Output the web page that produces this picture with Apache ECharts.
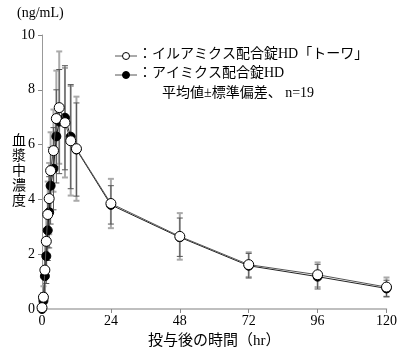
<!DOCTYPE html>
<html><head><meta charset="utf-8">
<script src="https://cdn.jsdelivr.net/npm/echarts@6/dist/echarts.min.js"></script>
<style>html,body{margin:0;padding:0;background:#fff}#c{width:400px;height:354px}</style>
</head><body><div id="c"></div>
<script>
const times = [0, 0.5, 1, 1.5, 2, 2.5, 3, 4, 5, 6, 8, 10, 12, 24, 48, 72, 96, 120];
const openMean = [0.05, 0.43, 1.42, 2.47, 3.45, 4.03, 5.05, 5.78, 6.95, 7.35, 6.8, 6.14, 5.85, 3.85, 2.65, 1.62, 1.25, 0.8];
const openSD   = [0.1, 0.4, 0.9, 1.0, 1.2, 1.3, 1.4, 1.5, 1.75, 2.05, 2.0, 2.0, 1.9, 0.9, 0.85, 0.45, 0.45, 0.35];
const filledMean = [0, 0.3, 1.2, 1.93, 2.87, 3.53, 4.5, 5.12, 6.3, 6.84, 6.98, 6.29, 5.82, 3.8, 2.62, 1.58, 1.18, 0.75];
const filledSD   = [0, 0.3, 0.8, 1.0, 1.1, 1.3, 1.4, 1.5, 1.7, 1.9, 1.9, 1.9, 1.7, 0.7, 0.7, 0.45, 0.45, 0.3];
const xTicks = [0, 24, 48, 72, 96, 120];
const yTicks = [0, 2, 4, 6, 8, 10];
const legendNames = ['：イルアミクス配合錠HD「トーワ」', '：アイミクス配合錠HD', '平均値±標準偏差、 n=19'];

const FONT = '"Liberation Serif", "Noto Sans CJK JP", serif';
const chart = echarts.init(document.getElementById('c'));

function errData(mean, sd) {
  return times.map((t, i) => [t, mean[i] - sd[i], mean[i] + sd[i]]);
}
function errSeries(mean, sd, color, width) {
  return {
    type: 'custom', data: errData(mean, sd), z: 1,
    renderItem: function (params, api) {
      const x = api.coord([api.value(0), 0])[0];
      const lo = api.coord([api.value(0), api.value(1)])[1];
      const hi = api.coord([api.value(0), api.value(2)])[1];
      const st = { stroke: color, lineWidth: width };
      return { type: 'group', children: [
        { type: 'line', shape: { x1: x, y1: lo, x2: x, y2: hi }, style: st },
        { type: 'line', shape: { x1: x - 3, y1: lo, x2: x + 3, y2: lo }, style: st },
        { type: 'line', shape: { x1: x - 3, y1: hi, x2: x + 3, y2: hi }, style: st }
      ]};
    }
  };
}

chart.setOption({
  animation: false,
  grid: { left: 42, right: 13, top: 35, bottom: 44 },
  xAxis: {
    type: 'value', min: 0, max: 120, interval: 24,
    axisLine: { lineStyle: { color: '#aaa', width: 1.5 } },
    axisTick: { show: true, length: 4, lineStyle: { color: '#888' } },
    splitLine: { show: false },
    axisLabel: { color: '#000', fontFamily: FONT, fontSize: 14, margin: 5 },
    name: '投与後の時間（hr）', nameLocation: 'middle', nameGap: 25,
    nameTextStyle: { color: '#000', fontFamily: FONT, fontSize: 15 }
  },
  yAxis: {
    type: 'value', min: 0, max: 10, interval: 2,
    axisLine: { show: true, lineStyle: { color: '#999', width: 1 } },
    axisTick: { show: true, length: 4, lineStyle: { color: '#888' } },
    splitLine: { show: false },
    axisLabel: { color: '#000', fontFamily: FONT, fontSize: 14, margin: 7 }
  },
  graphic: [
    { type: 'text', left: 17, top: 6, style: { text: '(ng/mL)', font: '14px ' + FONT, fill: '#000' } },
    { type: 'text', left: 12, top: 134, style: { text: '血\n漿\n中\n濃\n度', font: '14px ' + FONT, fill: '#000', lineHeight: 15 } },
    { type: 'line', shape: { x1: 115, y1: 56, x2: 137, y2: 56 }, style: { stroke: '#555', lineWidth: 1 } },
    { type: 'circle', shape: { cx: 126, cy: 56, r: 3.5 }, style: { fill: '#fff', stroke: '#000', lineWidth: 1 } },
    { type: 'line', shape: { x1: 115, y1: 75, x2: 137, y2: 75 }, style: { stroke: '#555', lineWidth: 1 } },
    { type: 'circle', shape: { cx: 126, cy: 75, r: 3.5 }, style: { fill: '#000', stroke: '#000', lineWidth: 1 } },
    { type: 'text', left: 138, top: 47, style: { text: legendNames[0], font: '14px ' + FONT, fill: '#000' } },
    { type: 'text', left: 138, top: 66, style: { text: legendNames[1], font: '14px ' + FONT, fill: '#000' } },
    { type: 'text', left: 162, top: 86, style: { text: legendNames[2], font: '14px ' + FONT, fill: '#000' } }
  ],
  series: [
    errSeries(openMean, openSD, '#aaa', 2),
    errSeries(filledMean, filledSD, '#555', 1),
    {
      type: 'line', data: times.map((t, i) => [t, filledMean[i]]), z: 3,
      symbol: 'circle', symbolSize: 9, showAllSymbol: true,
      lineStyle: { color: '#222', width: 1 },
      itemStyle: { color: '#000', borderColor: '#000', borderWidth: 1 }
    },
    {
      type: 'line', data: times.map((t, i) => [t, openMean[i]]), z: 4,
      symbol: 'circle', symbolSize: 10, showAllSymbol: true,
      lineStyle: { color: '#555', width: 1 },
      itemStyle: { color: '#fff', borderColor: '#000', borderWidth: 1 }
    }
  ]
});
</script></body></html>
